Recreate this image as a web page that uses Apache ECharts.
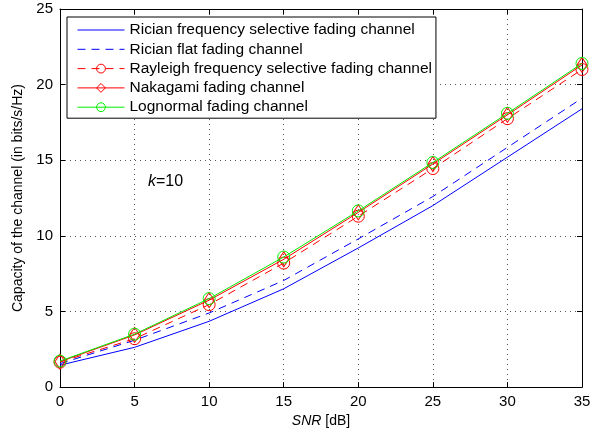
<!DOCTYPE html>
<html>
<head>
<meta charset="utf-8">
<script src="https://cdn.jsdelivr.net/npm/echarts@6/dist/echarts.min.js"></script>
<style>
html,body{margin:0;padding:0;background:#fff;}
#chart{width:604px;height:433px;}
</style>
</head>
<body>
<div id="chart"></div>
<script>
const snr = [0, 5, 10, 15, 20, 25, 30, 35];
const xTicks = [0, 5, 10, 15, 20, 25, 30, 35];
const yTicks = [0, 5, 10, 15, 20, 25];
const seriesNames = [
  'Rician frequency selective fading channel',
  'Rician flat fading channel',
  'Rayleigh frequency selective fading channel',
  'Nakagami fading channel',
  'Lognormal fading channel'
];
const ricianFreqSel = [1.45, 2.63, 4.35, 6.5, 9.2, 12.0, 15.2, 18.4];
const ricianFlat    = [1.55, 3.1, 4.9, 7.05, 9.8, 12.6, 15.85, 19.1];
const rayleigh      = [1.65, 3.2, 5.45, 8.2, 11.3, 14.45, 17.75, 21.0];
const nakagami      = [1.68, 3.45, 5.75, 8.45, 11.55, 14.75, 18.0, 21.3];
const lognormal     = [1.72, 3.5, 5.85, 8.6, 11.65, 14.85, 18.1, 21.4];

const FONT = 'Liberation Sans, Arial, Helvetica, sans-serif';
const pair = arr => snr.map((x, i) => [x, arr[i]]);

const chart = echarts.init(document.getElementById('chart'), null, {renderer: 'canvas'});

const gridLine = {show: true, lineStyle: {color: '#555', type: [1, 4], width: 1}};
const hidden = {opacity: 0, color: 'rgba(0,0,0,0)', borderWidth: 0};
const option = {
  backgroundColor: '#fff',
  animation: false,
  textStyle: {fontFamily: FONT},
  grid: {left: 60, top: 9, right: 22, bottom: 44, containLabel: false},
  legend: {
    orient: 'vertical',
    left: 67, top: 17,
    data: [
      {name: seriesNames[0], itemStyle: hidden},
      {name: seriesNames[1], itemStyle: hidden},
      {name: seriesNames[2]},
      {name: seriesNames[3]},
      {name: seriesNames[4]}
    ],
    backgroundColor: '#fff',
    borderColor: '#000',
    borderWidth: 1,
    borderRadius: 0,
    padding: [5, 4, 3, 10],
    itemWidth: 47,
    itemHeight: 11,
    itemGap: 3.3,
    lineStyle: {width: 1},
    itemStyle: {borderWidth: 1},
    textStyle: {fontFamily: FONT, fontSize: 15.5, lineHeight: 16, color: '#000'}
  },
  xAxis: [{
    type: 'value', min: 0, max: 35, interval: 5,
    axisLine: {show: true, lineStyle: {color: '#000', width: 1}},
    axisTick: {show: true, inside: true, length: 5, lineStyle: {color: '#000'}},
    axisLabel: {color: '#000', fontSize: 15, margin: 7, fontFamily: FONT},
    splitLine: gridLine,
    name: '{i|SNR} [dB]',
    nameLocation: 'middle', nameGap: 26,
    nameTextStyle: {color: '#000', fontSize: 14, fontFamily: FONT,
      rich: {i: {fontStyle: 'italic', fontSize: 14, fontFamily: FONT, color: '#000'}}}
  }, {
    type: 'value', min: 0, max: 35, interval: 5, position: 'top',
    axisLine: {show: true, onZero: false, lineStyle: {color: '#000', width: 1}},
    axisTick: {show: true, inside: true, length: 5, lineStyle: {color: '#000'}},
    axisLabel: {show: false}, splitLine: {show: false}
  }],
  yAxis: [{
    type: 'value', min: 0, max: 25, interval: 5,
    axisLine: {show: true, lineStyle: {color: '#000', width: 1}},
    axisTick: {show: true, inside: true, length: 5, lineStyle: {color: '#000'}},
    axisLabel: {color: '#000', fontSize: 15, margin: 7, fontFamily: FONT},
    splitLine: gridLine,
    name: 'Capacity of the channel (in bits/s/Hz)',
    nameLocation: 'middle', nameGap: 33,
    nameTextStyle: {color: '#000', fontSize: 14, fontFamily: FONT}
  }, {
    type: 'value', min: 0, max: 25, interval: 5, position: 'right',
    axisLine: {show: true, onZero: false, lineStyle: {color: '#000', width: 1}},
    axisTick: {show: true, inside: true, length: 5, lineStyle: {color: '#000'}},
    axisLabel: {show: false}, splitLine: {show: false}
  }],
  graphic: [{
    type: 'text', left: 148, top: 174,
    style: {
      text: '{i|k}=10',
      font: '16px ' + FONT, fill: '#000',
      rich: {i: {fontStyle: 'italic', fontSize: 16, fontFamily: FONT, color: '#000'}}
    }
  }],
  series: [
    {
      name: seriesNames[0], type: 'line', data: pair(ricianFreqSel),
      symbol: 'none', color: '#0000ff',
      lineStyle: {color: '#0000ff', width: 1, type: 'solid'}, z: 2
    },
    {
      name: seriesNames[1], type: 'line', data: pair(ricianFlat),
      symbol: 'none', color: '#0000ff',
      lineStyle: {color: '#0000ff', width: 1, type: [8, 6]}, z: 3
    },
    {
      name: seriesNames[2], type: 'line', data: pair(rayleigh),
      symbol: 'circle', symbolSize: 12, showAllSymbol: true, color: '#ff0000',
      itemStyle: {color: 'rgba(255,255,255,0)', borderColor: '#ff0000', borderWidth: 1},
      lineStyle: {color: '#ff0000', width: 1, type: [8, 6]}, z: 4
    },
    {
      name: seriesNames[3], type: 'line', data: pair(nakagami),
      symbol: 'diamond', symbolSize: [10, 15], showAllSymbol: true, color: '#ff0000',
      itemStyle: {color: 'rgba(255,255,255,0)', borderColor: '#ff0000', borderWidth: 1},
      lineStyle: {color: '#ff0000', width: 1}, z: 5
    },
    {
      name: seriesNames[4], type: 'line', data: pair(lognormal),
      symbol: 'circle', symbolSize: 12, showAllSymbol: true, color: '#00ee00',
      itemStyle: {color: 'rgba(255,255,255,0)', borderColor: '#00ee00', borderWidth: 1},
      lineStyle: {color: '#00ee00', width: 1}, z: 6
    }
  ]
};
chart.setOption(option);
</script>
</body>
</html>
